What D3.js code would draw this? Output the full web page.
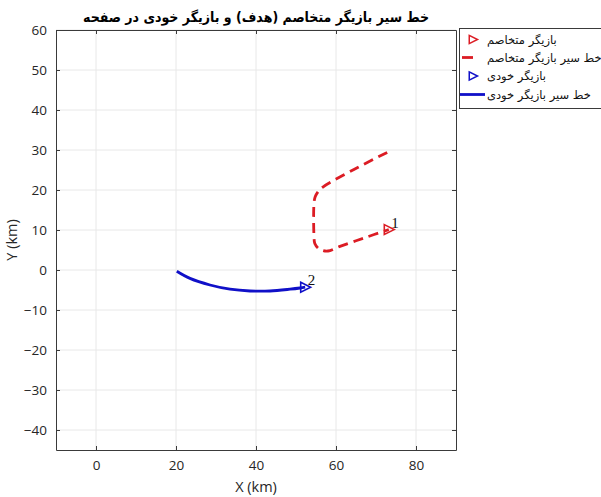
<!DOCTYPE html>
<html>
<head>
<meta charset="utf-8">
<script src="https://cdn.jsdelivr.net/npm/d3@7"></script>
<style>
  body { margin: 0; background: #fff; }
  svg { display: block; }
  .tick-label { font-family: "Open Sans", sans-serif; font-size: 13.5px; fill: #262626; }
  .fa { font-family: "DejaVu Sans", sans-serif; }
</style>
</head>
<body>
<svg id="chart" width="601" height="497"></svg>
<script>
// Trajectory data (km)
const hostileX = [72.8, 64.6, 56.8, 55.6, 54.8, 54.5, 54.5, 54.7, 55.5, 56.6, 58.0, 61.0, 67.0, 73.2];
const hostileY = [29.4, 25.2, 20.8, 19.7, 18.3, 16.7, 8.3, 6.6, 5.5, 4.9, 4.75, 5.9, 8.0, 10.1];
const ownX = [20.2, 23.5, 28.5, 33.5, 38.5, 43.5, 48.5, 51.0, 52.3];
const ownY = [-0.3, -2.1, -3.75, -4.8, -5.25, -5.25, -4.8, -4.5, -4.3];

// current positions + labels
const markerX = [73.2, 52.3];
const markerY = [10.1, -4.3];
const markerLabels = ['1', '2'];

const xTicks = [0, 20, 40, 60, 80];
const yTicks = [-40, -30, -20, -10, 0, 10, 20, 30, 40, 50, 60];
const xDomain = [-10, 90];
const yDomain = [-45, 60];

const titleText = 'خط سیر بازیگر متخاصم (هدف) و بازیگر خودی در صفحه';
const legendLabels = ['بازیگر متخاصم', 'خط سیر بازیگر متخاصم', 'بازیگر خودی', 'خط سیر بازیگر خودی'];

const RED = '#dc1c24';
const BLUE = '#1010c8';

const svg = d3.select('#chart');
const plotL = 56, plotR = 456, plotT = 30, plotB = 450;

const x = d3.scaleLinear().domain(xDomain).range([plotL, plotR]);
const y = d3.scaleLinear().domain(yDomain).range([plotB, plotT]);

// grid
const grid = svg.append('g');
grid.selectAll('.gx').data(xTicks).join('line')
    .attr('x1', d => x(d)).attr('x2', d => x(d))
    .attr('y1', plotT).attr('y2', plotB)
    .attr('stroke', '#e8e8e8').attr('stroke-width', 1);
grid.selectAll('.gy').data(yTicks).join('line')
    .attr('x1', plotL).attr('x2', plotR)
    .attr('y1', d => y(d)).attr('y2', d => y(d))
    .attr('stroke', '#e8e8e8').attr('stroke-width', 1);

// axes (ticks point inward, box on)
const axisColor = '#3a3a3a';
function styleAxis(g) {
    g.select('.domain').attr('stroke', axisColor);
    g.selectAll('.tick line').attr('stroke', axisColor);
    g.selectAll('.tick text').attr('class', 'tick-label').attr('fill', '#262626');
}
svg.append('g').attr('transform', `translate(0,${plotB})`)
    .call(d3.axisBottom(x).tickValues(xTicks).tickSize(-4).tickSizeOuter(0).tickPadding(10))
    .call(styleAxis);
svg.append('g').attr('transform', `translate(0,${plotT})`)
    .call(d3.axisTop(x).tickValues(xTicks).tickSize(-4).tickSizeOuter(0).tickFormat(''))
    .call(styleAxis);
svg.append('g').attr('transform', `translate(${plotL},0)`)
    .call(d3.axisLeft(y).tickValues(yTicks).tickSize(-4).tickSizeOuter(0).tickPadding(9))
    .call(styleAxis);
svg.append('g').attr('transform', `translate(${plotR},0)`)
    .call(d3.axisRight(y).tickValues(yTicks).tickSize(-4).tickSizeOuter(0).tickFormat(''))
    .call(styleAxis);

// axis labels
svg.append('text')
    .attr('x', (plotL + plotR) / 2).attr('y', 492)
    .attr('text-anchor', 'middle')
    .style('font-family', '"Open Sans", sans-serif').style('font-size', '14.5px').attr('fill', '#262626')
    .text('X (km)');
svg.append('text')
    .attr('transform', `translate(17,${(plotT + plotB) / 2}) rotate(-90)`)
    .attr('text-anchor', 'middle')
    .style('font-family', '"Open Sans", sans-serif').style('font-size', '14.5px').attr('fill', '#262626')
    .text('Y (km)');

// title
svg.append('text')
    .attr('x', (plotL + plotR) / 2).attr('y', 22)
    .attr('text-anchor', 'middle')
    .style('font-family', '"DejaVu Sans Condensed", "DejaVu Sans", sans-serif')
    .style('font-stretch', 'condensed')
    .style('font-size', '14px').style('font-weight', 'bold').attr('fill', '#000')
    .text(titleText);

// trajectories
const line = d3.line().x(d => x(d[0])).y(d => y(d[1])).curve(d3.curveCatmullRom);
const hostile = hostileX.map((v, i) => [v, hostileY[i]]);
const own = ownX.map((v, i) => [v, ownY[i]]);

svg.append('path')
    .attr('d', line(hostile))
    .attr('fill', 'none').attr('stroke', RED).attr('stroke-width', 2.8)
    .attr('stroke-dasharray', '10,6');
svg.append('path')
    .attr('d', line(own))
    .attr('fill', 'none').attr('stroke', BLUE).attr('stroke-width', 2.8);

// right-pointing hollow triangle marker
function tri(cx, cy, s) {
    return `M${cx - s * 0.5},${cy - s * 0.55} L${cx + s * 0.6},${cy} L${cx - s * 0.5},${cy + s * 0.55} Z`;
}
const markerColors = [RED, BLUE];
svg.append('g').selectAll('path').data(markerX).join('path')
    .attr('d', (d, i) => tri(x(d), y(markerY[i]), 9))
    .attr('fill', 'none').attr('stroke', (d, i) => markerColors[i]).attr('stroke-width', 1.6);

svg.append('g').selectAll('text').data(markerX).join('text')
    .attr('x', (d, i) => x(d) + 2.5)
    .attr('y', (d, i) => y(markerY[i]) - 2)
    .style('font-family', '"Liberation Serif", serif').style('font-size', '15px').attr('fill', '#111')
    .text((d, i) => markerLabels[i]);

// legend
const lg = svg.append('g');
lg.append('rect')
    .attr('x', 459.5).attr('y', 28.5).attr('width', 170).attr('height', 80)
    .attr('fill', '#fff').attr('stroke', '#3a3a3a').attr('stroke-width', 1);
const rowY = [39.5, 57.5, 76, 94.5];
// entry 1: hostile marker
lg.append('path').attr('d', tri(473, rowY[0], 7.5))
    .attr('fill', 'none').attr('stroke', RED).attr('stroke-width', 1.5);
// entry 2: hostile dashed line
lg.append('line').attr('x1', 462).attr('x2', 485).attr('y1', rowY[1]).attr('y2', rowY[1])
    .attr('stroke', RED).attr('stroke-width', 2.8).attr('stroke-dasharray', '11,30');
// entry 3: own marker
lg.append('path').attr('d', tri(473, rowY[2], 7.5))
    .attr('fill', 'none').attr('stroke', BLUE).attr('stroke-width', 1.5);
// entry 4: own line
lg.append('line').attr('x1', 460).attr('x2', 485).attr('y1', rowY[3]).attr('y2', rowY[3])
    .attr('stroke', BLUE).attr('stroke-width', 2.8);

lg.selectAll('.lt').data(legendLabels).join('text')
    .attr('class', 'fa')
    .attr('x', 487).attr('y', (d, i) => rowY[i] + 4)
    .attr('text-anchor', 'start')
    .style('font-size', '11.5px').attr('fill', '#111')
    .text(d => d);
</script>
</body>
</html>
